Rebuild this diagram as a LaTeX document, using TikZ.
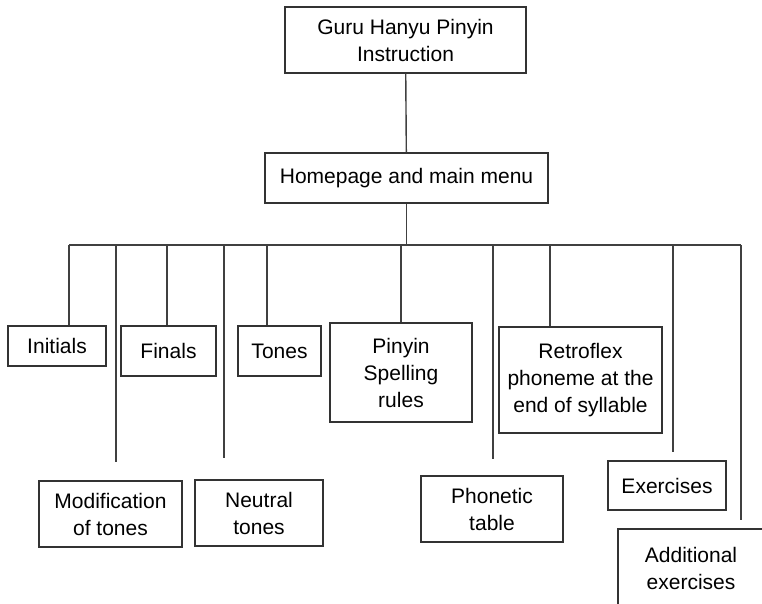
\documentclass[tikz,border=0pt]{standalone}
\usepackage{fontspec}
\setmainfont{Liberation Sans}
\tikzset{
  menu/.style={draw=black!80, line width=1.4pt, inner sep=0pt, align=center,
    font=\fontsize{21}{27}\selectfont},
  link/.style={draw=black!75, line width=1.4pt},
}
\begin{document}
\begin{tikzpicture}[x=1pt,y=-1pt]
  \clip (0,0) rectangle (762,603);
  % top of the tree
  \node[menu, minimum width=241, minimum height=66] (guru) at (405.5,40) {Guru Hanyu Pinyin\\Instruction};
  \node[menu, minimum width=283, minimum height=50] (home) at (406.5,178) {Homepage and main menu};
  % first row of sections
  \node[menu, minimum width=98,  minimum height=40]  (initials) at (57,346)    {Initials};
  \node[menu, minimum width=95,  minimum height=50]  (finals)   at (168.5,351) {Finals};
  \node[menu, minimum width=83,  minimum height=50]  (tones)    at (279.5,351) {Tones};
  \node[menu, minimum width=142, minimum height=99]  (spelling) at (401,372.5) {Pinyin\\Spelling\\rules};
  \node[menu, minimum width=163, minimum height=106] (retro)    at (580.5,380) {Retroflex\\phoneme at the\\end of syllable};
  % second row of sections
  \node[menu, minimum width=143, minimum height=66]  (modif)    at (110.5,514) {Modification\\of tones};
  \node[menu, minimum width=128, minimum height=66]  (neutral)  at (259,513)   {Neutral\\tones};
  \node[menu, minimum width=142, minimum height=66]  (phonetic) at (492,509)   {Phonetic\\table};
  \node[menu, minimum width=118, minimum height=49]  (exer)     at (667,485.5) {Exercises};
  \node[menu, minimum width=146, minimum height=78]  (addexer)  at (691,568)   {Additional\\exercises};
  % the branch bar
  \coordinate (barL) at (69,245);
  \coordinate (barR) at (741,245);
  \draw[link] (guru) -- (home);
  \draw[link] (home.south) -- (home.south |- barL);
  \draw[link] (barL) -- (barR);
  % drops that meet a box
  \foreach \x/\n in {69/initials,167/finals,267/tones,401/spelling,550/retro}
    \draw[link] (\x,245) -- (\x,0 |- \n.north);
  % drops that stop short of their box
  \coordinate (endmodif) at (116,462);
  \coordinate (endneutral) at (224,458);
  \coordinate (endphonetic) at (493,459);
  \coordinate (endexer) at (673,452);
  \coordinate (endadd) at (741,520);
  \foreach \e in {endmodif,endneutral,endphonetic,endexer,endadd}
    \draw[link] (\e |- barL) -- (\e);
\end{tikzpicture}
\end{document}
